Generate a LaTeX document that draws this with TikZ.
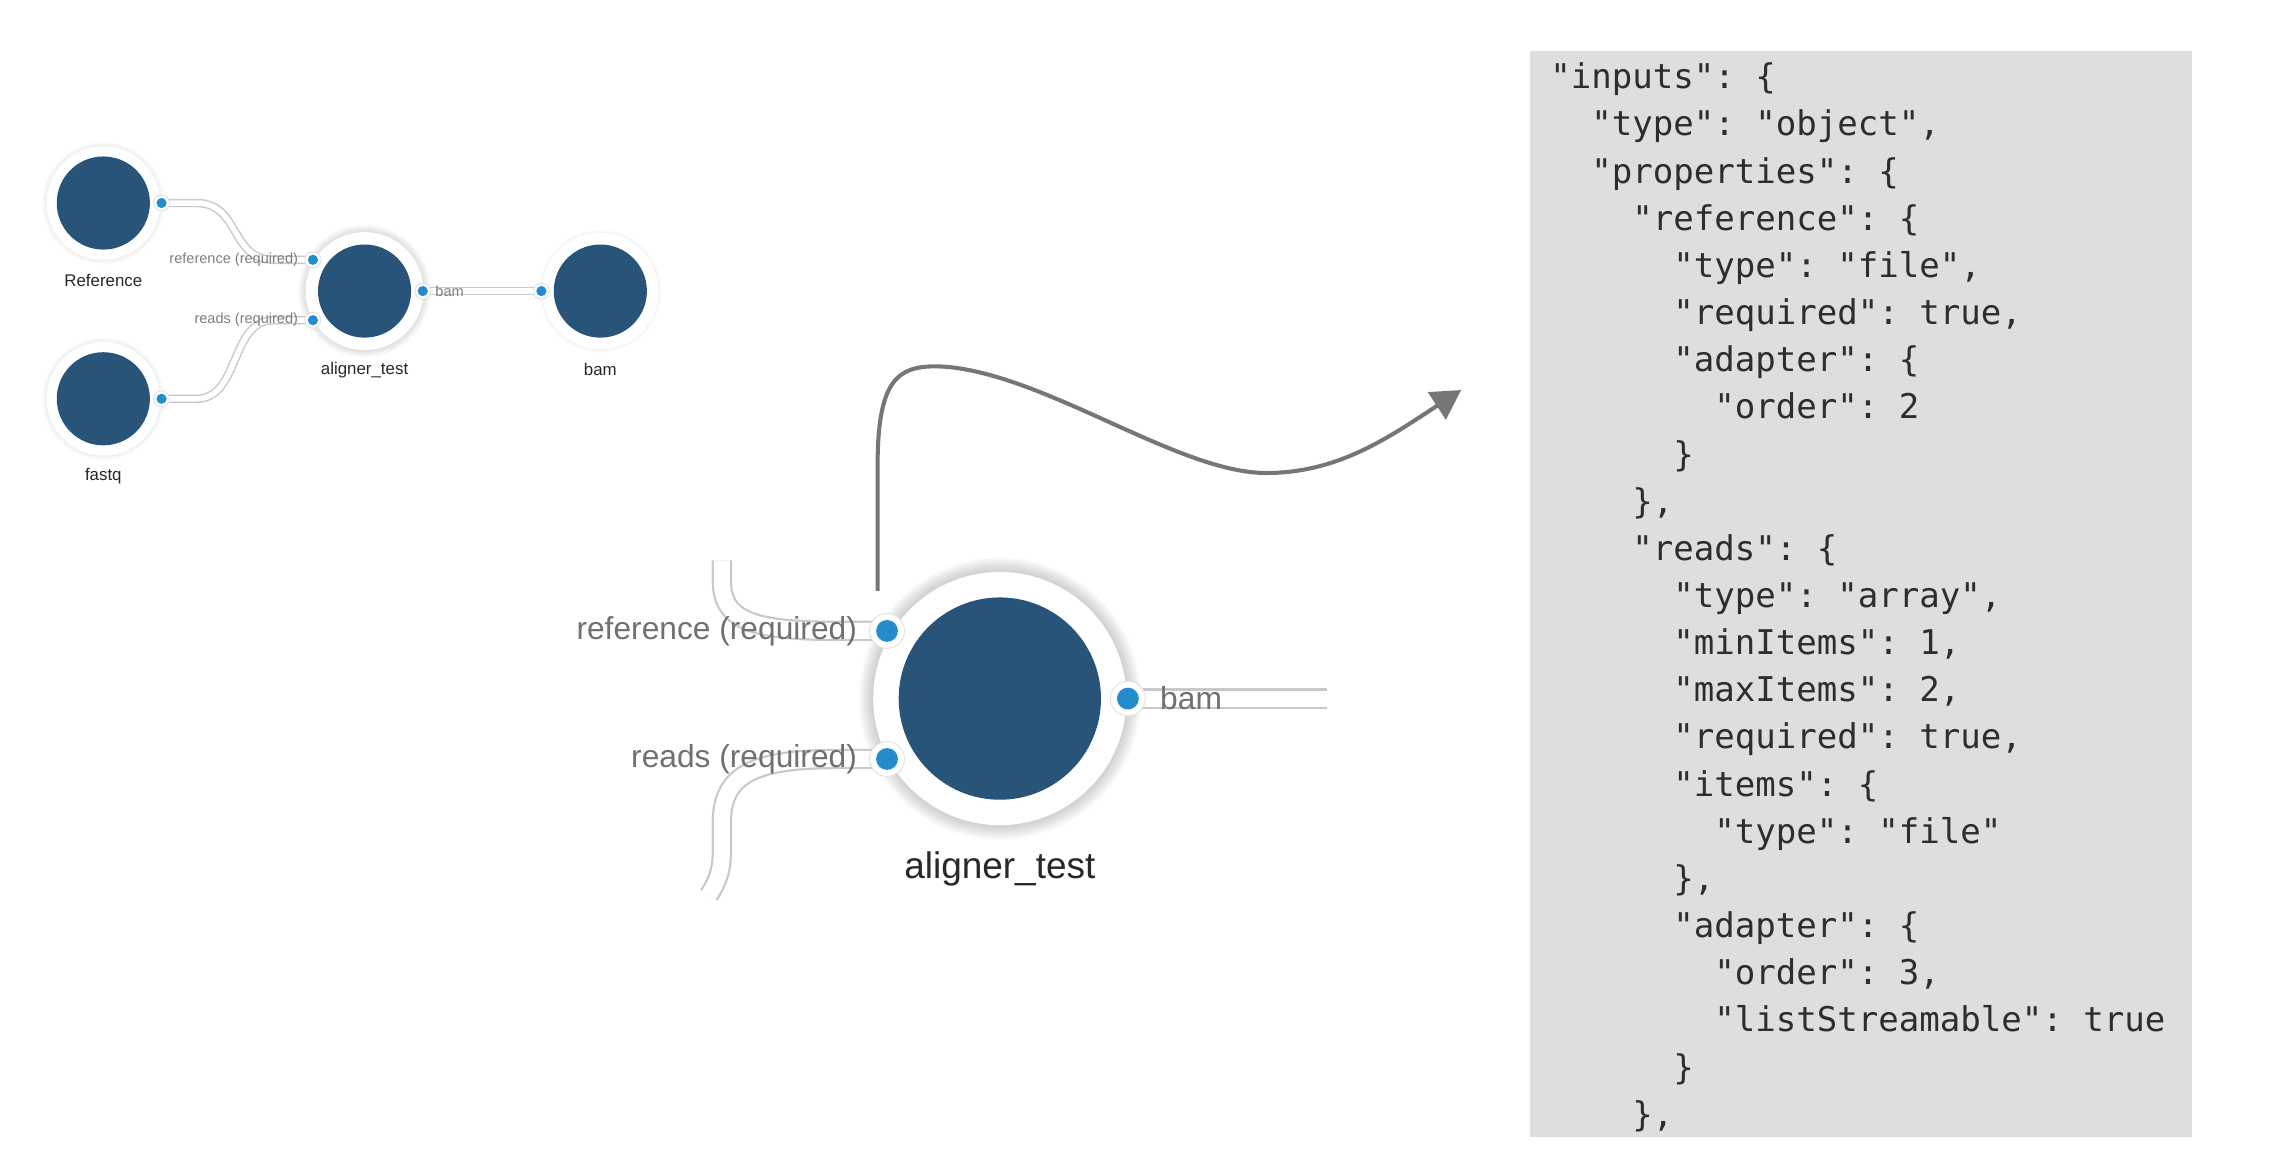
\documentclass[tikz,border=0pt]{standalone}
\usepackage{fontspec}
\setmainfont{Liberation Sans}
\setmonofont{DejaVu Sans Mono}
\usetikzlibrary{arrows.meta}
\definecolor{nodeblue}{RGB}{40,84,122}
\definecolor{portblue}{RGB}{36,140,204}
\definecolor{codebg}{RGB}{222,222,222}
\definecolor{codetext}{RGB}{45,45,45}
\definecolor{arrowgray}{RGB}{118,118,118}
\definecolor{linkgray}{RGB}{200,200,200}
\definecolor{labelgray}{RGB}{125,125,125}
\definecolor{labeldark}{RGB}{40,40,40}
\begin{document}
\begin{tikzpicture}[x=1pt,y=-1pt,
  core/.style={circle, fill=nodeblue, inner sep=0pt},
  link/.style={draw=linkgray, line width=1pt, double=white, double distance=3.8pt},
  biglink/.style={draw=linkgray, line width=1.5pt, double=white, double distance=11pt},
  portring/.style={circle, fill=white, draw=black!12, line width=0.6pt, inner sep=0pt},
  portdot/.style={circle, fill=portblue, inner sep=0pt},
  nlabel/.style={font=\fontsize{11.6}{13}\selectfont, text=labeldark, inner sep=0pt},
  plabel/.style={font=\fontsize{10}{12}\selectfont, text=labelgray, inner sep=0pt},
  bignlabel/.style={font=\fontsize{25.4}{28}\selectfont, text=labeldark, inner sep=0pt},
  bigplabel/.style={font=\fontsize{21.8}{24}\selectfont, text=labelgray!90!black, inner sep=0pt},
  codeline/.style={anchor=base west, inner sep=0pt, text=codetext, font=\ttfamily\fontsize{23.4}{28}\selectfont},
]
\useasboundingbox (0,0) rectangle (1568,800);

% ---------- coordinates ----------
\coordinate (cref) at (71,139.5);
\coordinate (cfastq) at (71,274);
\coordinate (calign) at (250.5,200);
\coordinate (cbam) at (412.5,200);
\coordinate (prefout) at (111,139.5);
\coordinate (pfastqout) at (111,274);
\coordinate (pin1) at (215,178.5);
\coordinate (pin2) at (215,220);
\coordinate (palignout) at (290.5,200);
\coordinate (pbamin) at (372,200);

\coordinate (cbig) at (687,480);
\coordinate (Pin1) at (609.5,433.5);
\coordinate (Pin2) at (609.5,521.5);
\coordinate (Pout) at (775,480);
\coordinate (Ttop) at (496,385);
\coordinate (Tbot) at (487,615);
\coordinate (Tright) at (912,480);
\coordinate (astart) at (603,406);
\coordinate (aend) at (1004,268);

% ---------- code panel ----------
\node[fill=codebg, minimum width=455pt, minimum height=746pt, anchor=north west, inner sep=0pt] (codebox) at (1051,35) {};
\node[codeline] (c1)  at (1065,61.0)   {"inputs": \{};
\node[codeline] (c2)  at (1093.2,93.4) {"type": "object",};
\node[codeline] (c3)  at (1093.2,125.8) {"properties": \{};
\node[codeline] (c4)  at (1121.4,158.2) {"reference": \{};
\node[codeline] (c5)  at (1149.6,190.6) {"type": "file",};
\node[codeline] (c6)  at (1149.6,223.0) {"required": true,};
\node[codeline] (c7)  at (1149.6,255.4) {"adapter": \{};
\node[codeline] (c8)  at (1177.8,287.8) {"order": 2};
\node[codeline] (c9)  at (1149.6,320.2) {\}};
\node[codeline] (c10) at (1121.4,352.6) {\},};
\node[codeline] (c11) at (1121.4,385.0) {"reads": \{};
\node[codeline] (c12) at (1149.6,417.4) {"type": "array",};
\node[codeline] (c13) at (1149.6,449.8) {"minItems": 1,};
\node[codeline] (c14) at (1149.6,482.2) {"maxItems": 2,};
\node[codeline] (c15) at (1149.6,514.6) {"required": true,};
\node[codeline] (c16) at (1149.6,547.0) {"items": \{};
\node[codeline] (c17) at (1177.8,579.4) {"type": "file"};
\node[codeline] (c18) at (1149.6,611.8) {\},};
\node[codeline] (c19) at (1149.6,644.2) {"adapter": \{};
\node[codeline] (c20) at (1177.8,676.6) {"order": 3,};
\node[codeline] (c21) at (1177.8,709.0) {"listStreamable": true};
\node[codeline] (c22) at (1149.6,741.4) {\}};
\node[codeline] (c23) at (1121.4,773.8) {\},};

% ---------- shadows ----------
\foreach \c in {cref,cfastq,cbam}
  \foreach \k in {1,2,3} \fill[black, opacity=0.02] (\c) circle[radius=39+\k];
\foreach \k in {1,...,5} \fill[black, opacity=0.025] (calign) circle[radius=40.5+\k];
\foreach \k in {1,...,10} \fill[black, opacity=0.019] (cbig) circle[radius=87+\k];

% ---------- links ----------
\draw[link] (prefout) -- (135,139.5) .. controls (165,139.5) and (158,178.5) .. (188,178.5) -- (pin1);
\draw[link] (pfastqout) -- (135,274) .. controls (165,274) and (158,220) .. (188,220) -- (pin2);
\draw[link] (palignout) -- (pbamin);
\draw[biglink] (Ttop) -- (496,399) .. controls (496,428) and (520,433.5) .. (578,433.5) -- (Pin1);
\draw[biglink] (Tbot) .. controls (493,606) and (496,598) .. (496,585) -- (496,565)
  .. controls (496,531) and (520,521.5) .. (576,521.5) -- (Pin2);
\draw[biglink] (Pout) -- (Tright);

% ---------- halos and cores ----------
\fill[white] (cref) circle[radius=39];
\fill[white] (cfastq) circle[radius=39];
\fill[white] (cbam) circle[radius=40];
\fill[white] (calign) circle[radius=40.5];
\fill[white] (cbig) circle[radius=87];
\node[core, minimum size=64pt] (nref) at (cref) {};
\node[core, minimum size=64pt] (nfastq) at (cfastq) {};
\node[core, minimum size=64pt] (nalign) at (calign) {};
\node[core, minimum size=64pt] (nbam) at (cbam) {};
\node[core, minimum size=139pt] (nbig) at (cbig) {};

% ---------- ports ----------
\foreach \p in {prefout,pfastqout,pin1,pin2,palignout,pbamin}{
  \node[portring, minimum size=11pt] at (\p) {};
  \node[portdot, minimum size=7pt] (dot-\p) at (\p) {};
}
\foreach \p in {Pin1,Pin2,Pout}{
  \node[portring, minimum size=24pt] at (\p) {};
  \node[portdot, minimum size=15pt] (dot-\p) at (\p) {};
}

% ---------- labels ----------
\node[nlabel] (lref) at (71,193) {Reference};
\node[nlabel] (lfastq) at (71,327) {fastq};
\node[nlabel] (lalign) at (250.5,254) {aligner\_test};
\node[nlabel] (lbam) at (412.5,254) {bam};
\node[plabel, anchor=east] (lp1) at (205,178.5) {reference (required)};
\node[plabel, anchor=east] (lp2) at (205,220) {reads (required)};
\node[plabel, anchor=west] (lp3) at (299,200) {bam};

\node[bigplabel, anchor=east] (Lp1) at (589,434) {reference (required)};
\node[bigplabel, anchor=east] (Lp2) at (589,521.5) {reads (required)};
\node[bigplabel, anchor=west] (Lp3) at (797,480) {bam};
\node[bignlabel] (Lalign) at (687,597) {aligner\_test};

% ---------- arrow ----------
\draw[arrowgray, line width=2.8pt, -{Triangle[length=20pt,width=22pt]}]
  (astart) -- (603,320) .. controls (603,258) and (618,250) .. (650,252)
  .. controls (720,258) and (810,325) .. (870,325)
  .. controls (920,325) and (955,300) .. (aend);
\end{tikzpicture}
\end{document}
